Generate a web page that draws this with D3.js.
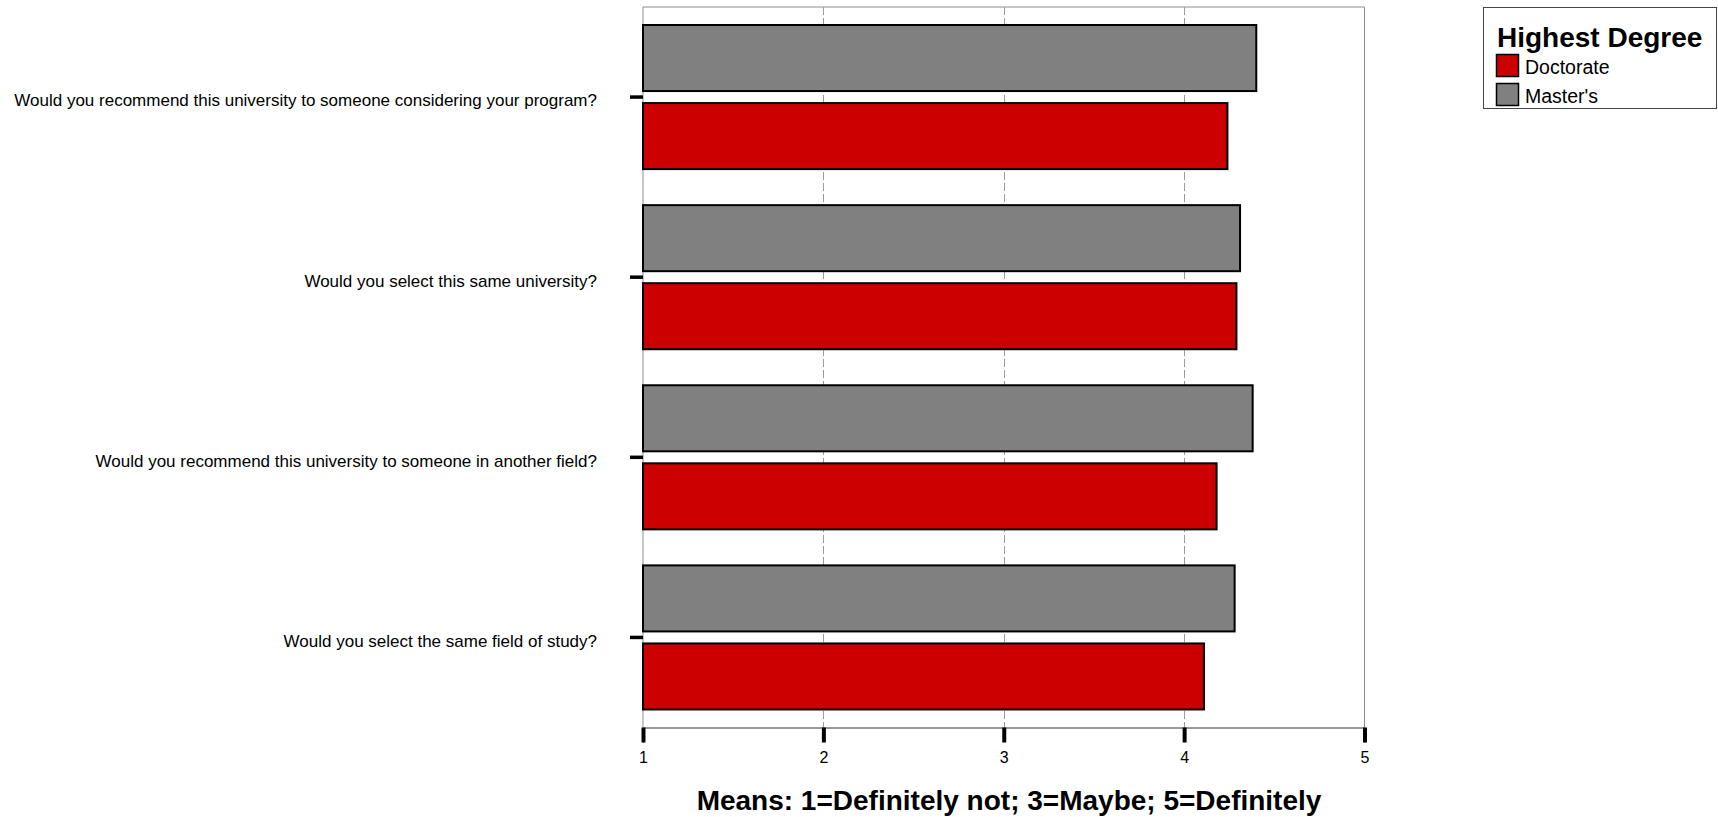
<!DOCTYPE html>
<html>
<head>
<meta charset="utf-8">
<script src="https://cdn.jsdelivr.net/npm/d3@7"></script>
<style>
  html, body { margin: 0; padding: 0; background: #fff; }
  svg { display: block; font-family: "Liberation Sans", Arial, Helvetica, sans-serif; }
</style>
</head>
<body>
<svg id="chart" width="1718" height="817"></svg>
<script>
const categories = [
  "Would you recommend this university to someone considering your program?",
  "Would you select this same university?",
  "Would you recommend this university to someone in another field?",
  "Would you select the same field of study?"
];
const seriesNames = ["Master's", "Doctorate"];
const doctorateValues = [4.24, 4.29, 4.18, 4.11];
const mastersValues = [4.40, 4.31, 4.38, 4.28];
const xTicks = [1, 2, 3, 4, 5];
const legendTitle = "Highest Degree";
const legendItems = ["Doctorate", "Master's"];
const axisTitle = "Means: 1=Definitely not; 3=Maybe; 5=Definitely";
const colors = { "Doctorate": "#cc0000", "Master's": "#808080" };

(function () {
const svg = d3.select("#chart");
const pL = 643, pR = 1364.5, pT = 7, pB = 727.5;

const x = d3.scaleLinear().domain([1, 5]).range([pL, pR]);
const y = d3.scaleBand().domain(categories).range([pT, pB]).padding(0);
const ySub = d3.scaleBand().domain(seriesNames).range([0, y.bandwidth()])
  .paddingInner(12 / 78).paddingOuter(0.2308);

const data = [];
categories.forEach((c, i) => {
  data.push({ cat: c, series: "Master's", value: mastersValues[i] });
  data.push({ cat: c, series: "Doctorate", value: doctorateValues[i] });
});

// frame (top, left, right)
svg.append("path")
  .attr("d", `M${pL},${pB} V${pT} H${pR} V${pB}`)
  .attr("fill", "none").attr("stroke", "#8c8c8c").attr("stroke-width", 1);

// gridlines
svg.append("g").selectAll("line").data(xTicks.filter(t => t > 1 && t < 5)).join("line")
  .attr("x1", d => Math.round(x(d)) + 0.5).attr("x2", d => Math.round(x(d)) + 0.5)
  .attr("y1", pT).attr("y2", pB)
  .attr("stroke", "#9a9a9a").attr("stroke-width", 1).attr("stroke-dasharray", "8,3");

// bars
svg.append("g").selectAll("rect").data(data).join("rect")
  .attr("x", x(1))
  .attr("y", d => y(d.cat) + ySub(d.series))
  .attr("width", d => x(d.value) - x(1))
  .attr("height", ySub.bandwidth())
  .attr("fill", d => colors[d.series])
  .attr("stroke", "#000").attr("stroke-width", 2);

// bottom axis
const xAxis = d3.axisBottom(x).tickValues(xTicks).tickFormat(d3.format("d")).tickSize(15).tickPadding(9);
const gx = svg.append("g").attr("transform", `translate(0,${pB})`).call(xAxis);
gx.attr("font-size", 16).attr("font-family", "Liberation Sans, Arial, sans-serif");
gx.select(".domain").attr("stroke", "#333").attr("stroke-width", 1);
gx.selectAll(".tick line").attr("stroke", "#000").attr("stroke-width", 4);
gx.selectAll(".tick text").attr("fill", "#000");

// left category ticks and labels
const yAxis = d3.axisLeft(y).tickSize(13).tickPadding(33);
const gy = svg.append("g").attr("transform", `translate(${pL},0)`).call(yAxis);
gy.attr("font-size", 17).attr("font-family", "Liberation Sans, Arial, sans-serif");
gy.select(".domain").remove();
gy.selectAll(".tick line").attr("stroke", "#000").attr("stroke-width", 3.5);
gy.selectAll(".tick text").attr("fill", "#000").attr("dy", "0.55em");

// axis title
svg.append("text")
  .attr("x", 1009).attr("y", 810)
  .attr("text-anchor", "middle")
  .attr("font-size", 28).attr("font-weight", "bold").attr("fill", "#000")
  .text(axisTitle);

// legend
const lg = svg.append("g");
lg.append("rect").attr("x", 1483.5).attr("y", 7.5).attr("width", 233).attr("height", 101)
  .attr("fill", "#fff").attr("stroke", "#444").attr("stroke-width", 1);
lg.append("text").attr("x", 1497).attr("y", 46.5)
  .attr("font-size", 28).attr("font-weight", "bold").attr("fill", "#000").text(legendTitle);
const items = lg.selectAll("g.item").data(legendItems).join("g").attr("class", "item")
  .attr("transform", (d, i) => `translate(0,${i * 29})`);
items.append("rect").attr("x", 1496.5).attr("y", 54.5).attr("width", 22).attr("height", 22)
  .attr("fill", d => colors[d]).attr("stroke", "#000").attr("stroke-width", 1.5);
items.append("text").attr("x", 1525).attr("y", 73.5)
  .attr("font-size", 19.5).attr("fill", "#000").text(d => d);
})();
</script>
</body>
</html>
